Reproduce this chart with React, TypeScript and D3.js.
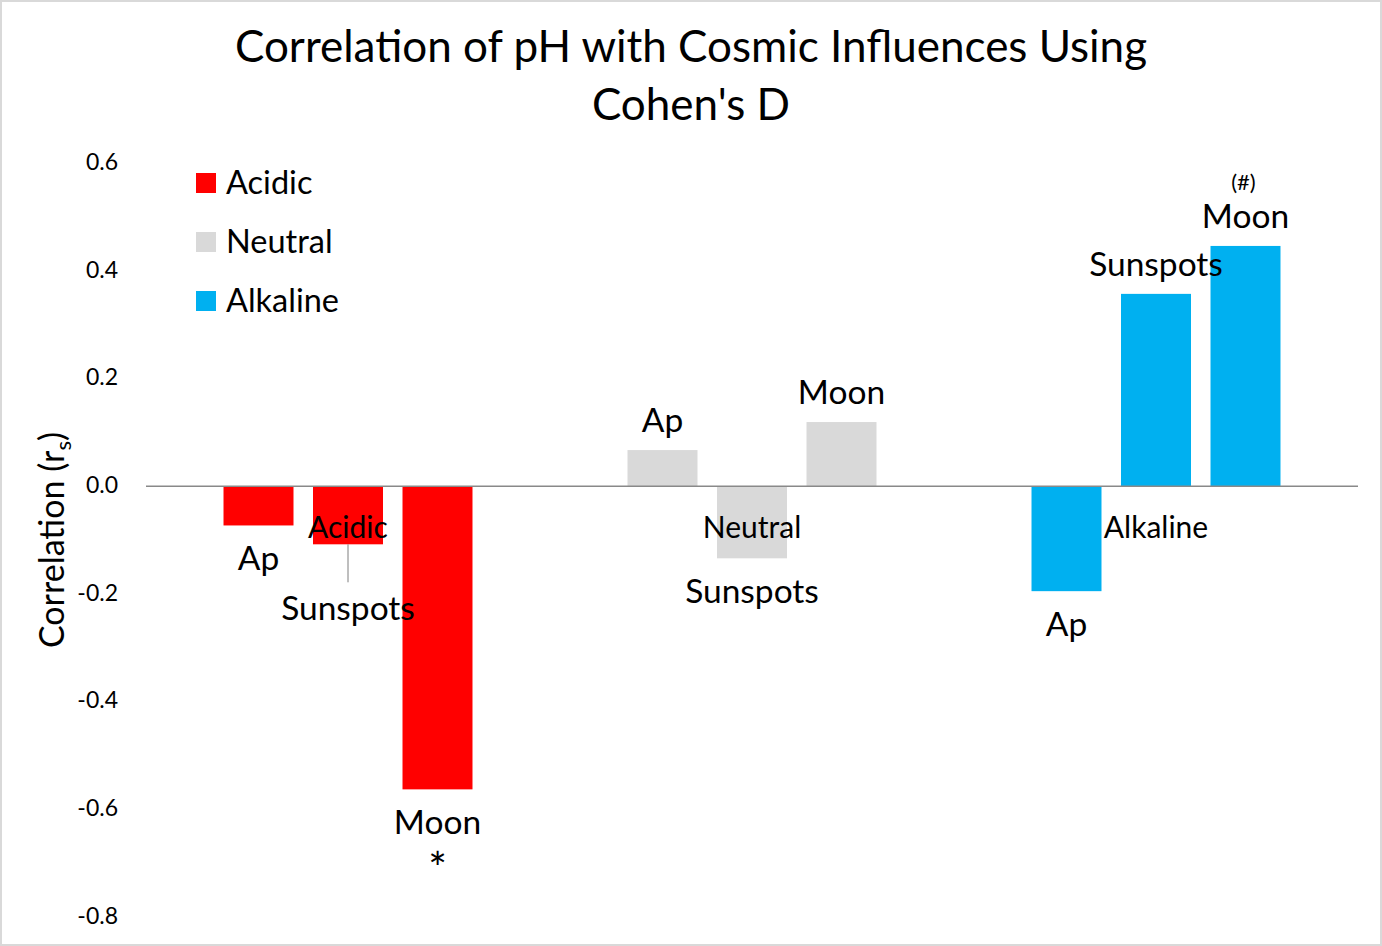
import { useEffect } from "react";
import * as d3 from "d3";

const groups = ["Acidic", "Neutral", "Alkaline"];
const factors = ["Ap", "Sunspots", "Moon"];
const acidicValues = [-0.073, -0.108, -0.563];
const neutralValues = [0.067, -0.134, 0.119];
const alkalineValues = [-0.195, 0.357, 0.446];
const yTicks = [0.6, 0.4, 0.2, 0.0, -0.2, -0.4, -0.6, -0.8];
// significance markers: [group, factor, mark]
const markers: [string, string, string][] = [
  ["Acidic", "Moon", "*"],
  ["Alkaline", "Moon", "(#)"],
];

const COLORS: Record<string, string> = {
  Acidic: "#FF0000",
  Neutral: "#D9D9D9",
  Alkaline: "#00B0F0",
};

const FONT = "Lato, 'Open Sans', sans-serif";
const W = 1382;
const H = 946;
const margin = { top: 163, right: 24, bottom: 29, left: 146 };

export default function App() {
  useEffect(() => {
    document.body.style.margin = "0";
  }, []);

  const valuesByGroup: Record<string, number[]> = {
    Acidic: acidicValues,
    Neutral: neutralValues,
    Alkaline: alkalineValues,
  };

  const x0 = d3
    .scaleBand<string>()
    .domain(groups)
    .range([margin.left, W - margin.right])
    .padding(0);
  const x1 = d3
    .scaleBand<string>()
    .domain(factors)
    .range([0, x0.bandwidth()])
    .paddingInner(0.218)
    .paddingOuter(0.866);
  const y = d3
    .scaleLinear()
    .domain([-0.8, 0.6])
    .range([H - margin.bottom, margin.top]);

  const bars = groups.flatMap((g) =>
    factors.map((f, i) => ({ group: g, factor: f, value: valuesByGroup[g][i] })),
  );

  const barCx = (g: string, f: string) => x0(g)! + x1(f)! + x1.bandwidth() / 2;
  // the Acidic / Sunspots label was dragged down with a leader line
  const isDragged = (g: string, f: string) => g === "Acidic" && f === "Sunspots";
  const labelY = (g: string, f: string, v: number) => {
    if (isDragged(g, f)) return y(v) + 76;
    return v < 0 ? y(v) + 45 : y(v) - 18;
  };

  return (
    <svg width={W} height={H} style={{ display: "block", fontFamily: FONT }}>
      <rect x={1} y={1} width={W - 2} height={H - 2} fill="#fff" stroke="#D9D9D9" strokeWidth={2} />

      <text textAnchor="middle" fontSize={44} fill="#000">
        <tspan x={W / 2} y={62}>Correlation of pH with Cosmic Influences Using</tspan>
        <tspan x={W / 2} y={120}>Cohen's D</tspan>
      </text>

      {yTicks.map((t) => (
        <text
          key={t}
          x={118}
          y={y(t) + 1}
          textAnchor="end"
          dominantBaseline="middle"
          fontSize={23}
          fill="#000"
        >
          {t.toFixed(1)}
        </text>
      ))}

      <text
        transform={`translate(64,540) rotate(-90)`}
        textAnchor="middle"
        fontSize={34}
        fill="#000"
      >
        Correlation (r<tspan fontSize={22} dy={7}>s</tspan><tspan dy={-7}>)</tspan>
      </text>

      {bars.map((b) => (
        <rect
          key={b.group + b.factor}
          x={x0(b.group)! + x1(b.factor)!}
          y={y(Math.max(0, b.value))}
          width={x1.bandwidth()}
          height={Math.abs(y(b.value) - y(0))}
          fill={COLORS[b.group]}
        />
      ))}

      <line x1={margin.left} x2={W - margin.right} y1={y(0)} y2={y(0)} stroke="#898989" strokeWidth={1.5} />

      {groups.map((g) => (
        <text
          key={g}
          x={x0(g)! + x0.bandwidth() / 2}
          y={538}
          textAnchor="middle"
          fontSize={30}
          fill="#000"
        >
          {g}
        </text>
      ))}

      {bars
        .filter((b) => isDragged(b.group, b.factor))
        .map((b) => (
          <line
            key={"leader" + b.group}
            x1={barCx(b.group, b.factor)}
            x2={barCx(b.group, b.factor)}
            y1={y(b.value)}
            y2={y(b.value) + 38}
            stroke="#7F7F7F"
            strokeWidth={1}
          />
        ))}

      {bars.map((b) => (
        <text
          key={"lbl" + b.group + b.factor}
          x={barCx(b.group, b.factor)}
          y={labelY(b.group, b.factor, b.value)}
          textAnchor="middle"
          fontSize={33.5}
          fill="#000"
        >
          {b.factor}
        </text>
      ))}

      {markers.map(([g, f, m]) => {
        const v = valuesByGroup[g][factors.indexOf(f)];
        const ly = labelY(g, f, v);
        return (
          <text
            key={"m" + g + f}
            x={barCx(g, f) + (v < 0 ? 0 : -2)}
            y={v < 0 ? ly + 50 : ly - 38}
            textAnchor="middle"
            fontSize={v < 0 ? 44 : 22}
            fill="#000"
          >
            {m}
          </text>
        );
      })}

      {groups.map((g, i) => {
        const cy = [183, 242, 301][i];
        return (
          <g key={"leg" + g}>
            <rect x={196} y={cy - 10} width={20} height={20} fill={COLORS[g]} />
            <text x={226} y={cy + 3} dominantBaseline="middle" fontSize={32.5} fill="#000">
              {g}
            </text>
          </g>
        );
      })}
    </svg>
  );
}
